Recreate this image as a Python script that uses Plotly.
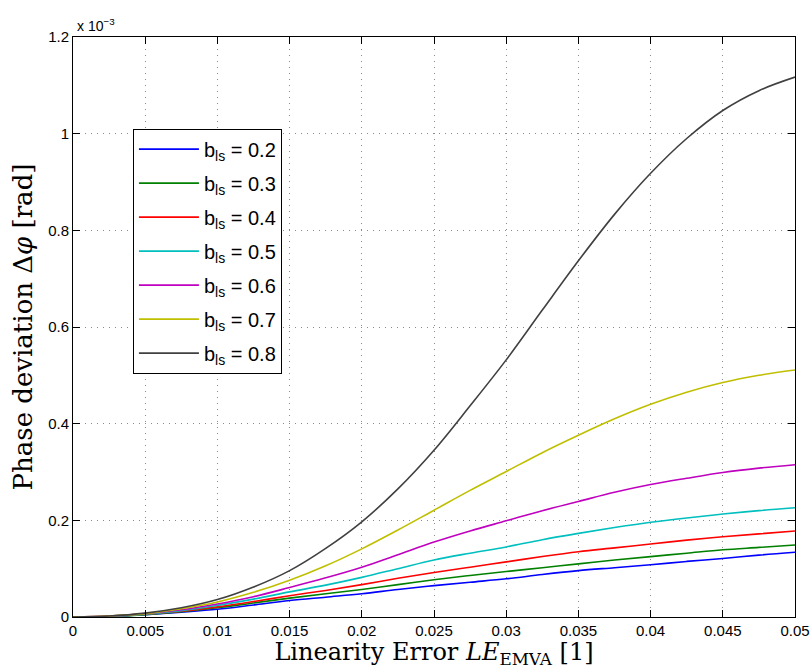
import plotly.graph_objects as go

# Linearity error (x axis)
le_emva = [0, 0.0025, 0.005, 0.0075, 0.01, 0.0125, 0.015, 0.0175, 0.02, 0.0225, 0.025,
           0.0275, 0.03, 0.0325, 0.035, 0.0375, 0.04, 0.0425, 0.045, 0.0475, 0.05]

# Phase deviation in units of 1e-3 rad
b_02 = [0, 0.001, 0.005, 0.010, 0.016, 0.025, 0.034, 0.041, 0.048, 0.057, 0.065,
        0.072, 0.079, 0.088, 0.096, 0.102, 0.108, 0.115, 0.121, 0.128, 0.134]
b_03 = [0, 0.001, 0.005, 0.011, 0.019, 0.029, 0.039, 0.048, 0.057, 0.067, 0.077,
        0.086, 0.094, 0.102, 0.110, 0.118, 0.125, 0.132, 0.139, 0.144, 0.149]
b_04 = [0, 0.001, 0.006, 0.012, 0.021, 0.032, 0.044, 0.055, 0.067, 0.080, 0.092,
        0.103, 0.114, 0.125, 0.135, 0.143, 0.151, 0.159, 0.166, 0.172, 0.178]
b_05 = [0, 0.001, 0.006, 0.013, 0.024, 0.037, 0.052, 0.066, 0.082, 0.100, 0.118,
        0.132, 0.145, 0.160, 0.173, 0.185, 0.196, 0.205, 0.213, 0.220, 0.226]
b_06 = [0, 0.002, 0.007, 0.015, 0.027, 0.042, 0.061, 0.081, 0.103, 0.129, 0.155,
        0.178, 0.199, 0.220, 0.239, 0.258, 0.274, 0.287, 0.299, 0.308, 0.315]
b_07 = [0, 0.002, 0.007, 0.017, 0.031, 0.051, 0.076, 0.106, 0.141, 0.180, 0.221,
        0.262, 0.301, 0.340, 0.376, 0.410, 0.440, 0.465, 0.485, 0.500, 0.511]
b_08 = [0, 0.002, 0.008, 0.019, 0.036, 0.062, 0.096, 0.142, 0.197, 0.265, 0.345,
        0.437, 0.532, 0.635, 0.737, 0.833, 0.918, 0.990, 1.048, 1.089, 1.117]

series = [b_02, b_03, b_04, b_05, b_06, b_07, b_08]
labels = ["0.2", "0.3", "0.4", "0.5", "0.6", "0.7", "0.8"]
colors = ["#0000FF", "#008000", "#FF0000", "#00BFBF", "#BF00BF", "#BFBF00", "#404040"]

x_ticks = [0, 0.005, 0.01, 0.015, 0.02, 0.025, 0.03, 0.035, 0.04, 0.045, 0.05]
x_ticktext = ["0", "0.005", "0.01", "0.015", "0.02", "0.025", "0.03", "0.035", "0.04", "0.045", "0.05"]
y_ticks = [0, 0.2, 0.4, 0.6, 0.8, 1.0, 1.2]
y_ticktext = ["0", "0.2", "0.4", "0.6", "0.8", "1", "1.2"]

fig = go.Figure()
for i, (ys, lab, col) in enumerate(zip(series, labels, colors)):
    fig.add_trace(go.Scatter(
        x=le_emva, y=ys, mode="lines",
        line=dict(color=col, width=1.6, shape="spline", smoothing=1.0),
        name="b<sub>ls</sub> = " + lab,
        legendgroup="g%d" % i,
    ))

axis_common = dict(
    showline=True, linecolor="black", linewidth=1, mirror="ticks",
    ticks="inside", ticklen=7, tickcolor="black",
    showgrid=True, gridcolor="#8a8a8a", griddash="1px,5px", gridwidth=1,
    zeroline=False, automargin=False,
    tickfont=dict(family="Liberation Sans, Arial, sans-serif", size=15, color="black"),
)

fig.update_layout(
    width=810, height=669,
    margin=dict(l=73, r=15, t=37, b=52),
    paper_bgcolor="white", plot_bgcolor="white",
    showlegend=True,
    legend=dict(
        x=0.083, y=0.842, xanchor="left", yanchor="top",
        bordercolor="black", borderwidth=1, bgcolor="white",
        font=dict(family="Liberation Sans, Arial, sans-serif", size=20, color="black"),
        tracegroupgap=5, traceorder="grouped", itemwidth=60,
    ),
    xaxis=dict(
        range=[0, 0.05], tickvals=x_ticks, ticktext=x_ticktext,
        title=dict(text="Linearity Error <i>LE</i><sub>EMVA</sub> [1]",
                   font=dict(family="DejaVu Serif, Liberation Serif, serif", size=24, color="black"),
                   standoff=5),
        **axis_common,
    ),
    yaxis=dict(
        range=[0, 1.2], tickvals=y_ticks, ticktext=y_ticktext,
        title=dict(text="Phase deviation Δ<i>φ</i> [rad]",
                   font=dict(family="DejaVu Serif, Liberation Serif, serif", size=26, color="black"),
                   standoff=8),
        **axis_common,
    ),
    annotations=[dict(
        text="x 10<sup>−3</sup>", xref="paper", yref="paper", x=0.0, y=1.0,
        xanchor="left", yanchor="bottom", showarrow=False, xshift=2, yshift=1,
        font=dict(family="Liberation Sans, Arial, sans-serif", size=14, color="black"),
    )],
)

fig.write_html("out.html")
